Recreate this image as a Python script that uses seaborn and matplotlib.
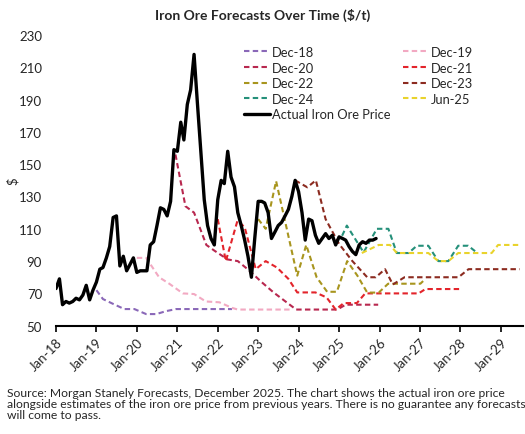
import pandas as pd
import matplotlib
matplotlib.use("Agg")
import matplotlib.pyplot as plt
import matplotlib.dates as mdates
import seaborn as sns

# actual monthly iron ore price, Jan-18 .. Dec-25
actual_price = [73, 79, 63, 65, 64, 65, 67, 66, 69, 75, 66, 72,
                77, 85, 86, 92, 99, 117, 118, 87, 93, 84, 88, 92,
                83, 84, 84, 84, 100, 102, 112, 123, 122, 118, 127, 159,
                158, 176, 165, 187, 196, 218, 188, 158, 128, 112, 104, 100,
                128, 140, 138, 158, 142, 136, 120, 112, 103, 93, 80, 104,
                127, 127, 126, 120, 104, 108, 112, 114, 118, 122, 130, 140,
                133, 120, 103, 116, 115, 106, 101, 104, 107, 104, 106, 100,
                105, 104, 103, 99, 96, 94, 100, 102, 101, 103, 103, 104]
actual_start = "2018-01-01"

# forecasts
dec18_dates = ["2019-01-01", "2019-03-01", "2019-06-01", "2019-09-10", "2019-12-10",
               "2020-03-25", "2020-06-25", "2020-09-20", "2020-12-20", "2022-05-10"]
dec18_vals = [72, 66.5, 63.5, 60.3, 60.3, 57.2, 57.2, 59, 60.3, 60.3]

dec19_dates = ["2020-01-01", "2020-03-25", "2020-07-20", "2020-10-20", "2021-02-20",
               "2021-06-01", "2021-09-15", "2022-01-15", "2022-05-12", "2022-07-01", "2023-11-01"]
dec19_vals = [92, 92, 80, 76, 70, 69.6, 65, 64.5, 61, 60, 60]

dec20_dates = ["2020-12-15", "2021-03-15", "2021-06-01", "2021-09-20", "2021-12-01",
               "2022-04-01", "2022-07-01", "2022-10-15", "2023-02-01", "2023-05-20",
               "2023-12-10", "2024-12-15", "2025-03-01", "2025-12-20"]
dec20_vals = [156, 124, 120, 100, 96.5, 91, 90, 84, 77, 70.6, 60, 60, 63, 63]

dec21_dates = ["2022-01-01", "2022-03-15", "2022-06-28", "2022-09-01", "2022-12-10",
               "2023-03-10", "2023-06-20", "2023-10-01", "2023-12-20", "2024-06-01",
               "2024-09-10", "2024-12-01", "2025-02-12", "2025-06-10", "2025-08-25",
               "2026-12-20", "2027-02-20", "2028-01-01"]
dec21_vals = [116, 90, 115, 111, 85, 90, 86, 79, 70.6, 70.6, 67.5, 60, 64, 64, 70,
              70, 72.7, 72.7]

dec22_dates = ["2023-01-01", "2023-03-10", "2023-06-12", "2023-12-20", "2024-03-10",
               "2024-06-12", "2024-09-15", "2024-12-12", "2025-03-15", "2025-06-15",
               "2025-09-12", "2025-12-25", "2026-03-20", "2027-01-05", "2027-02-20"]
dec22_vals = [116, 110, 139.5, 81, 100, 80, 71, 71, 90, 81, 70.5, 70.5, 76, 76, 79]

dec23_dates = ["2023-12-01", "2024-03-20", "2024-06-05", "2024-09-01", "2025-01-01",
               "2025-05-01", "2025-09-12", "2025-11-28", "2026-02-20", "2026-05-01",
               "2026-08-15", "2027-12-15", "2028-03-15", "2029-06-20"]
dec23_vals = [140, 135.7, 140, 116, 100.6, 90, 80, 80, 85, 75.5, 80, 80, 85, 85]

dec24_dates = ["2025-01-28", "2025-03-12", "2025-08-10", "2025-12-08", "2026-03-22",
               "2026-06-06", "2026-09-20", "2026-12-04", "2027-03-18", "2027-06-16",
               "2027-09-15", "2027-12-13", "2028-03-12", "2028-05-25"]
dec24_vals = [105.7, 112, 95.4, 110, 110, 95, 95, 99.5, 99.5, 90, 90, 99.5, 99.5, 95.5]

jun25_dates = ["2025-07-25", "2025-12-25", "2026-04-06", "2026-06-06", "2027-03-18",
               "2027-06-16", "2027-09-15", "2027-12-13", "2028-10-10", "2028-12-07",
               "2029-07-01"]
jun25_vals = [95, 100, 100, 95, 95, 90, 90, 95, 95, 100, 100]

forecast_names = ["Dec-18", "Dec-19", "Dec-20", "Dec-21", "Dec-22", "Dec-23", "Dec-24", "Jun-25"]
forecast_colors = ["#8a68b8", "#f2a9c2", "#b8284f", "#e3242b", "#a8951e", "#8c2b20", "#25907a", "#e9d32c"]
forecast_dates = [dec18_dates, dec19_dates, dec20_dates, dec21_dates,
                  dec22_dates, dec23_dates, dec24_dates, jun25_dates]
forecast_vals = [dec18_vals, dec19_vals, dec20_vals, dec21_vals,
                 dec22_vals, dec23_vals, dec24_vals, jun25_vals]

sns.set_style("white")
plt.rcParams["font.family"] = ["Lato", "DejaVu Sans"]

fig = plt.figure(figsize=(5.25, 4.35), dpi=100)
ax = fig.add_axes([56 / 525, 1 - 326.7 / 435, (523 - 56) / 525, (326.7 - 36) / 435])

for name, dates, vals, col in zip(forecast_names, forecast_dates, forecast_vals, forecast_colors):
    sns.lineplot(x=pd.to_datetime(dates), y=vals, ax=ax, color=col, lw=1.5,
                 linestyle=(0, (2.6, 1.6)), label=name)

actual_dates = pd.date_range(actual_start, periods=len(actual_price), freq="MS")
sns.lineplot(x=actual_dates, y=actual_price, ax=ax, color="black", lw=2.4,
             label="Actual Iron Ore Price", zorder=5)

ax.set_ylim(50, 230)
ax.set_yticks(range(50, 231, 20))
ax.set_xlim(pd.Timestamp("2018-01-01"), pd.Timestamp("2029-07-20"))
ax.xaxis.set_major_locator(mdates.YearLocator())
ax.xaxis.set_major_formatter(mdates.DateFormatter("%b-%y"))
for lab in ax.get_xticklabels():
    lab.set_rotation(45)
    lab.set_ha("right")
    lab.set_rotation_mode("anchor")
ax.tick_params(axis="x", length=4, width=1.2, color="black", labelsize=9.5, pad=3, bottom=True)
ax.tick_params(axis="y", length=0, labelsize=9.5, pad=10)

for s in ["left", "top", "right"]:
    ax.spines[s].set_visible(False)
ax.spines["bottom"].set_color("black")
ax.spines["bottom"].set_linewidth(1.5)

ax.set_xlabel("")
ax.set_ylabel("$", fontsize=9.5)
ax.yaxis.set_label_coords(-37 / 467, 0.5)

handles, labels = ax.get_legend_handles_labels()
order = ["Dec-18", "Dec-20", "Dec-22", "Dec-24", "Actual Iron Ore Price",
         "Dec-19", "Dec-21", "Dec-23", "Jun-25"]
hmap = dict(zip(labels, handles))
ax.legend([hmap[k] for k in order], order, ncol=2, frameon=False, fontsize=9.3,
          loc="upper left", bbox_to_anchor=(244 / 525, 1 - 47 / 435),
          bbox_transform=fig.transFigure, borderaxespad=0, borderpad=0,
          handlelength=2.0, handletextpad=0.15, labelspacing=0.28, columnspacing=1.0)

fig.text(0.5, 1 - 15 / 435, "Iron Ore Forecasts Over Time ($/t)", ha="center", va="center",
         fontsize=10, fontweight="bold")

caption = ("Source: Morgan Stanely Forecasts, December 2025. The chart shows the actual iron ore price\n"
           "alongside estimates of the iron ore price from previous years. There is no guarantee any forecasts\n"
           "will come to pass.")
fig.text(7 / 525, 1 - 388 / 435, caption, ha="left", va="top", fontsize=8.7, linespacing=0.98)

fig.savefig("out.png", dpi=100)
